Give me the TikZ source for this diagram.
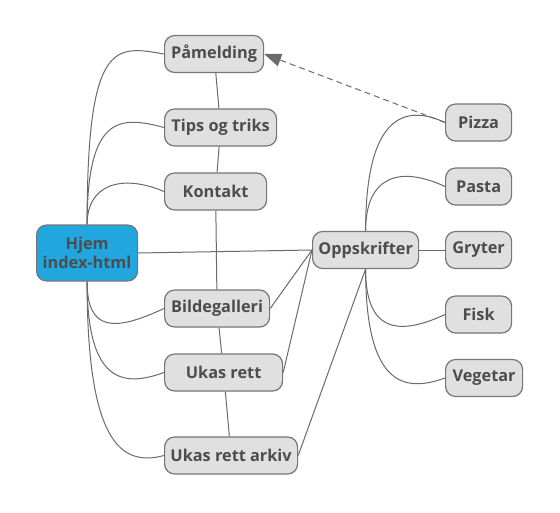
\documentclass[tikz,border=0pt]{standalone}
\usepackage{fontspec}
\setmainfont{Open Sans}
\usetikzlibrary{arrows.meta}

\definecolor{boxfill}{HTML}{E0E0E0}
\definecolor{boxline}{HTML}{767676}
\definecolor{homefill}{HTML}{21A6E0}
\definecolor{labeltext}{HTML}{4D4D4D}
\definecolor{linkline}{HTML}{6A6A6A}

\begin{document}
\begin{tikzpicture}[x=1pt,y=1pt,
  every node/.style={draw=boxline, fill=boxfill, line width=1.2pt, rounded corners=10pt,
    text=labeltext, font=\bfseries\fontsize{16.3}{19.5}\selectfont,
    minimum height=37pt, inner xsep=4pt, anchor=west},
  link/.style={draw=linkline, line width=1pt}]

\useasboundingbox (0,0) rectangle (560,-512);

\node[align=center, fill=homefill, minimum width=101pt, minimum height=56pt] (hjem) at (36,-253) {Hjem\\index-html};

\node[minimum width=99pt] (pamelding) at (164,-54) {Påmelding};
\node[minimum width=112pt] (tips) at (164,-127.5) {Tips og triks};
\node[minimum width=102pt] (kontakt) at (164,-191.5) {Kontakt};
\node[minimum width=105pt] (galleri) at (164,-308.5) {Bildegalleri};
\node[minimum width=118pt] (ukasrett) at (164,-372.5) {Ukas rett};
\node[minimum width=133pt] (arkiv) at (164,-455.5) {Ukas rett arkiv};

\node[minimum width=106pt] (oppskrifter) at (312,-250) {Oppskrifter};

\node[minimum width=66pt] (pizza) at (445,-122.5) {Pizza};
\node[minimum width=66pt] (pasta) at (445,-186.5) {Pasta};
\node[minimum width=66pt] (gryter) at (445,-250) {Gryter};
\node[minimum width=66pt] (fisk) at (445,-314.5) {Fisk};
\node[minimum width=77pt] (vegetar) at (445,-378) {Vegetar};

% hjem to the left column
\path[link] (hjem.north) edge[out=90, in=170, out distance=185pt, in distance=50pt] (pamelding.west);
\path[link] (hjem.north) edge[out=90, in=165, out distance=110pt, in distance=45pt] (tips.west);
\path[link] (hjem.north) edge[out=90, in=157, out distance=40pt, in distance=46pt] (kontakt.west);
\path[link] (hjem.south) edge[out=270, in=205, out distance=50pt, in distance=55pt] (galleri.west);
\path[link] (hjem.south) edge[out=270, in=200, out distance=100pt, in distance=45pt] (ukasrett.west);
\path[link] (hjem.south) edge[out=270, in=195, out distance=160pt, in distance=45pt] (arkiv.west);
\path[link] (hjem.east) edge (oppskrifter.west);

% left column chain
\path[link] (pamelding) edge (tips);
\path[link] (tips) edge (kontakt);
\path[link] (kontakt) edge (galleri);
\path[link] (galleri) edge (ukasrett);
\path[link] (ukasrett) edge (arkiv);

% left column to oppskrifter
\path[link] (galleri.east) edge (oppskrifter.west);
\path[link] (ukasrett.east) edge (oppskrifter.west);
\path[link] (arkiv.east) edge (oppskrifter.south);

% oppskrifter to the right column
\path[link] (oppskrifter.north) edge[out=90, in=155, out distance=115pt, in distance=45pt] (pizza.west);
\path[link] (oppskrifter.north) edge[out=90, in=155, out distance=55pt, in distance=50pt] (pasta.west);
\path[link] (oppskrifter.east) edge (gryter.west);
\path[link] (oppskrifter.south) edge[out=270, in=205, out distance=60pt, in distance=55pt] (fisk.west);
\path[link] (oppskrifter.south) edge[out=270, in=200, out distance=115pt, in distance=45pt] (vegetar.west);

\draw[link, dash pattern=on 6pt off 4pt, -{Triangle[length=17pt, width=13pt, fill=linkline]}] (pizza.west) -- (pamelding.east);
\end{tikzpicture}
\end{document}
